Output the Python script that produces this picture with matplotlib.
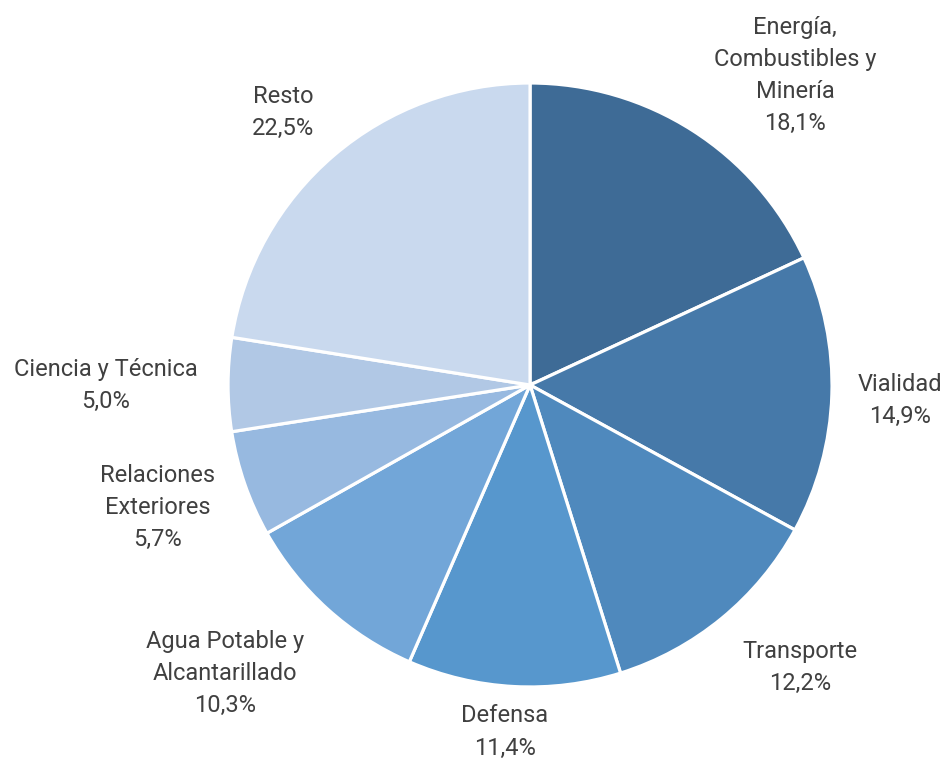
import matplotlib.pyplot as plt

# --------------------------------------------------------------
# Data
# --------------------------------------------------------------

categories = ["Energía,\nCombustibles y\nMinería", "Vialidad", "Transporte", "Defensa",
              "Agua Potable y\nAlcantarillado", "Relaciones\nExteriores",
              "Ciencia y Técnica", "Resto"]
values = [18.1, 14.9, 12.2, 11.4, 10.3, 5.7, 5.0, 22.5]
colors = ["#3E6B96", "#4679A9", "#4F89BD", "#5797CD", "#72A6D8", "#97B9E0", "#B1C8E5", "#C9D9EE"]

# label centers in pie units (radius = 1)
label_pos = [(0.877, 1.026), (1.225, -0.05), (0.894, -0.937), (-0.083, -1.149),
             (-1.01, -0.954), (-1.232, -0.407), (-1.404, -0.003), (-0.818, 0.901)]

# --------------------------------------------------------------
# Plot
# --------------------------------------------------------------

plt.rcParams['font.family'] = ['Roboto', 'DejaVu Sans']

fig = plt.figure(figsize=(9.47, 7.58), dpi=100)
ax = fig.add_axes([0.5597 - 0.3189, 0.4921 - 0.3984, 0.6378, 0.7968])

wedges, texts = ax.pie(values, colors=colors, startangle=90, counterclock=False,
                       radius=1, labels=categories,
                       wedgeprops=dict(edgecolor="white", linewidth=2.3))

for t, cat, val, (x, y) in zip(texts, categories, values, label_pos):
    t.set_text(f"{cat}\n{val:.1f}%".replace(".", ","))
    t.set_position((x, y))
    t.set_ha("center")
    t.set_va("center")
    t.set_fontsize(17)
    t.set_color("#404040")
    t.set_linespacing(1.5)

ax.set_xlim(-1, 1)
ax.set_ylim(-1, 1)

plt.savefig("out.png", dpi=100)
